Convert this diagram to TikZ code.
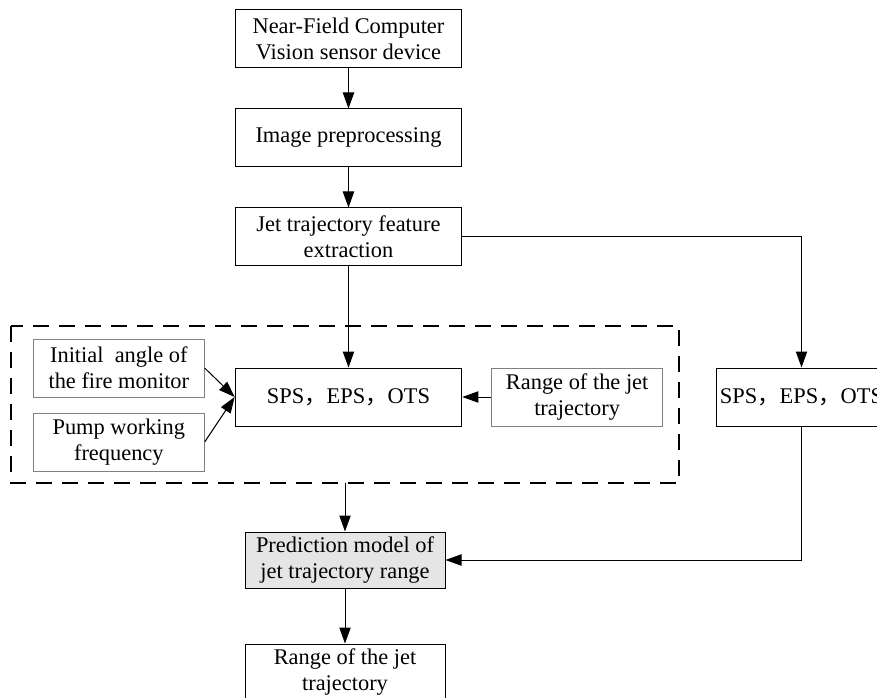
\documentclass[tikz,border=0pt]{standalone}
\usepackage{fontspec}
\setmainfont{Liberation Serif}
\newfontfamily\cjk{Noto Sans CJK SC}
\usetikzlibrary{arrows.meta,positioning,calc}

\newcommand{\zcomma}{{\cjk ，}}

\begin{document}
\begin{tikzpicture}[
    x=0.75pt, y=-0.75pt,
    font=\fontsize{16.8}{19.5}\selectfont,
    node distance=0mm,
    box/.style={draw, line width=0.75pt, minimum width=170pt, minimum height=43.5pt, align=center, inner sep=0pt},
    inbox/.style={box, draw=black!50, minimum width=128pt},
    predbox/.style={box, fill=black!10, minimum width=150pt, minimum height=42pt},
    frame/.style={line width=1.5pt, dash pattern=on 12pt off 7.5pt},
    arr/.style={-{Triangle[length=12pt,width=8.5pt]}, line width=0.75pt}
]
\useasboundingbox (0,0) rectangle (877,698);

\node[box] (sensor) at (348.5,39) {Near-Field Computer\\Vision sensor device};
\node[box, below=30pt of sensor] (prep) {Image preprocessing};
\node[box, below=30pt of prep] (feat) {Jet trajectory feature\\extraction};
\node[box, below=75.75pt of feat] (sps) {SPS\zcomma EPS\zcomma OTS};
\node[inbox, right=21.75pt of sps] (range) {Range of the jet\\trajectory};
\node[inbox, left=22.5pt of sps, yshift=21.75pt] (angle) {Initial\ \ angle of\\the fire monitor};
\node[inbox, left=22.5pt of sps, yshift=-33.75pt] (pump) {Pump working\\frequency};
\node[box, minimum width=127.5pt, right=39.75pt of range] (spsout) {SPS\zcomma EPS\zcomma OTS};

% dashed group around the inputs
\coordinate (dashnw) at ($(angle.north west)+(-22,-13)$);
\coordinate (dashse) at ($(range.east |- pump.south)+(16,11)$);
\draw[frame] (dashnw) rectangle (dashse);

\node[predbox] (pred) at (345,560) {Prediction model of\\jet trajectory range};
\node[box, minimum width=150pt, minimum height=42pt] (result) at (345,672) {Range of the jet\\trajectory};
\coordinate (dashbot) at (pred.north |- dashse);

\foreach \a/\b in {sensor/prep, prep/feat, feat/sps, range/sps, pred/result}
  \draw[arr] (\a) -- (\b);
\draw[arr] (angle.east) -- (sps.west);
\draw[arr] (pump.east) -- (sps.west);
\draw[arr] (feat.east) -| (spsout.north);
\draw[arr] (dashbot) -- (pred.north);
\draw[arr] (spsout.south) |- (pred.east);
\end{tikzpicture}
\end{document}
